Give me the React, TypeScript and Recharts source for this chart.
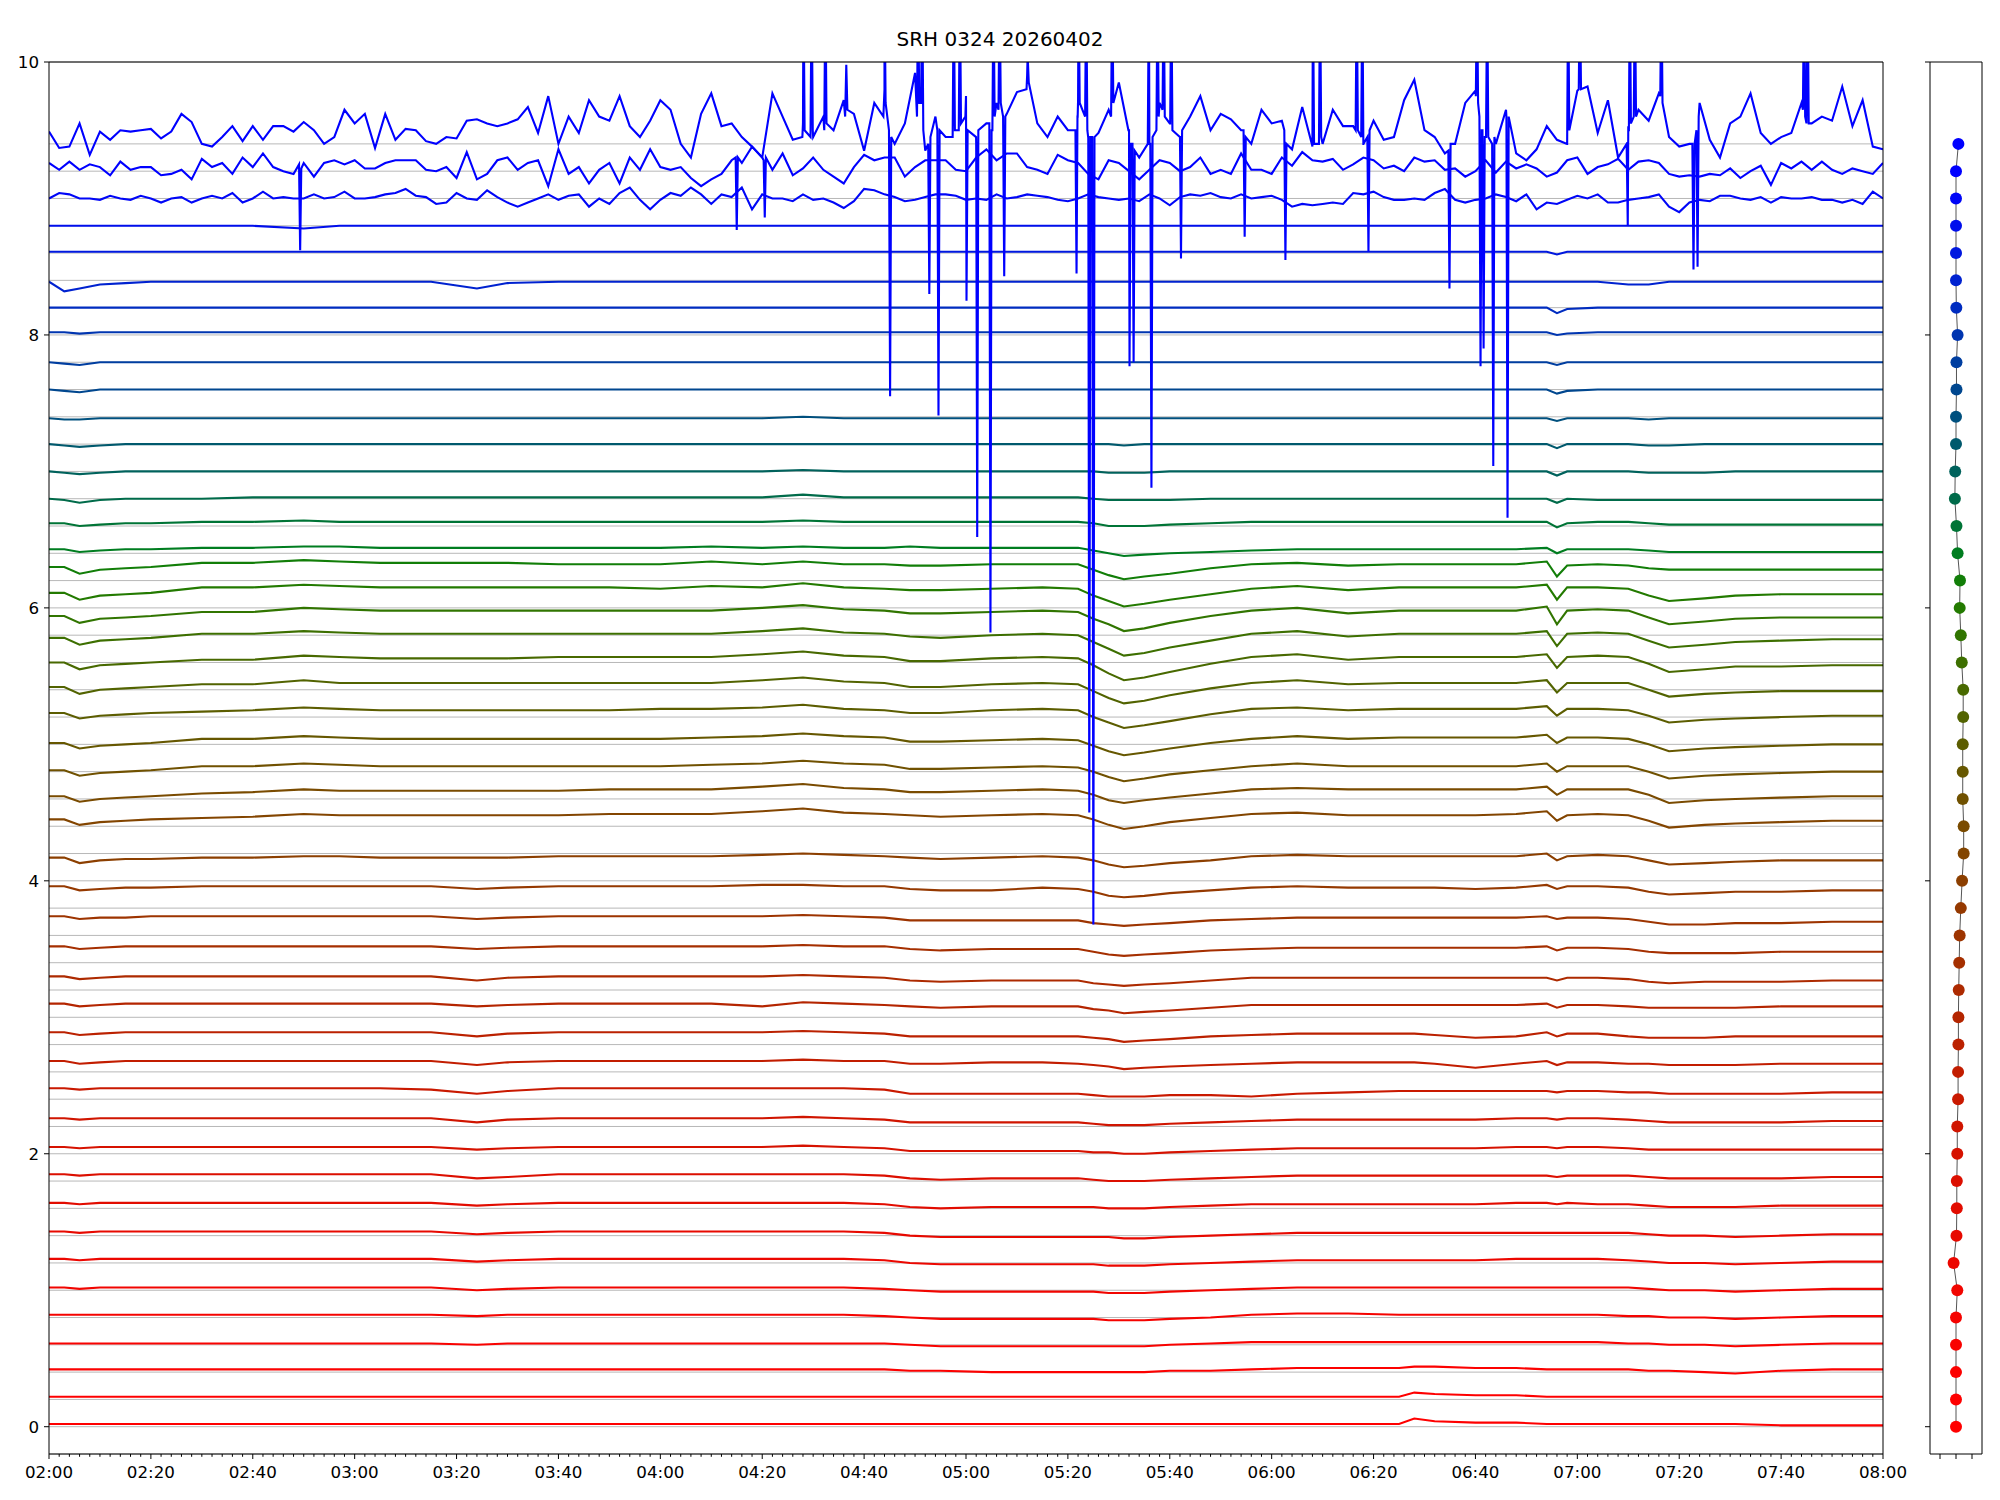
import React from 'react';
import { LineChart, Line, XAxis, YAxis, CartesianGrid, ReferenceLine, ScatterChart, Scatter } from 'recharts';

const TITLE = 'SRH 0324 20260402';
const FONT = 'DejaVu Sans, sans-serif';

// channel baselines (y offsets of the 48 traces, bottom to top)
const BASELINES = [0, 0.2, 0.4, 0.6, 0.8, 1, 1.2, 1.4, 1.6, 1.8, 2, 2.2, 2.4, 2.6, 2.8, 3, 3.2, 3.4, 3.6, 3.8, 4, 4.2, 4.4, 4.6, 4.8, 5, 5.2, 5.4, 5.6, 5.8, 6, 6.2, 6.4, 6.6, 6.8, 7, 7.2, 7.4, 7.6, 7.8, 8, 8.2, 8.4, 8.6, 8.8, 9, 9.2, 9.4];
const Y_MAJOR_TICKS = [0, 2, 4, 6, 8, 10];
const Y_TOP = 10;
const X_END = 360; // minutes after 02:00 (08:00)

// sample times (minutes after 02:00) for the quiet channels 0..44
const T_GRID = [0, 3, 6, 10, 15, 20, 30, 40, 50, 57, 65, 75, 84, 90, 100, 110, 120, 130, 140, 148, 156, 164, 169, 175, 185, 195, 202, 205, 208, 211, 215, 220, 228, 236, 245, 255, 265, 268, 272, 280, 288, 294, 296, 298, 304, 310, 314, 318, 325, 331, 340, 350, 360];

// 2-minute sample times for the three noisy top channels (also the x tick positions)
const T_FINE = [0, 2, 4, 6, 8, 10, 12, 14, 16, 18, 20, 22, 24, 26, 28, 30, 32, 34, 36, 38, 40, 42, 44, 46, 48, 50, 52, 54, 56, 58, 60, 62, 64, 66, 68, 70, 72, 74, 76, 78, 80, 82, 84, 86, 88, 90, 92, 94, 96, 98, 100, 102, 104, 106, 108, 110, 112, 114, 116, 118, 120, 122, 124, 126, 128, 130, 132, 134, 136, 138, 140, 142, 144, 146, 148, 150, 152, 154, 156, 158, 160, 162, 164, 166, 168, 170, 172, 174, 176, 178, 180, 182, 184, 186, 188, 190, 192, 194, 196, 198, 200, 202, 204, 206, 208, 210, 212, 214, 216, 218, 220, 222, 224, 226, 228, 230, 232, 234, 236, 238, 240, 242, 244, 246, 248, 250, 252, 254, 256, 258, 260, 262, 264, 266, 268, 270, 272, 274, 276, 278, 280, 282, 284, 286, 288, 290, 292, 294, 296, 298, 300, 302, 304, 306, 308, 310, 312, 314, 316, 318, 320, 322, 324, 326, 328, 330, 332, 334, 336, 338, 340, 342, 344, 346, 348, 350, 352, 354, 356, 358, 360];

// deviations from baseline in hundredths, at T_GRID, channels 0..44
const D00 = [2,2,2,2,2,2,2,2,2,2, 2,2,2,2,2,2,2,2,2,2, 2,2,2,2,2,2,2,2,2,2, 2,2,2,2,2,2,2,6,4,3, 3,2,2,2,2,2,2,2,2,2, 1,1,1];
const D01 = [2,2,2,2,2,2,2,2,2,2, 2,2,2,2,2,2,2,2,2,2, 2,2,2,2,2,2,2,2,2,2, 2,2,2,2,2,2,2,5,4,3, 3,2,2,2,2,2,2,2,2,2, 2,2,2];
const D02 = [2,2,2,2,2,2,2,2,2,2, 2,2,2,2,2,2,2,2,2,2, 2,2,1,1,0,0,0,0,0,0, 0,1,1,2,3,3,3,4,4,3, 3,2,2,2,2,2,1,1,0,-1, 1,2,2];
const D03 = [1,1,1,1,1,1,1,1,1,1, 1,1,0,1,1,1,1,1,1,1, 1,1,0,-1,-1,-1,-1,-1,-1,-1, -1,0,1,2,2,2,2,2,2,2, 2,2,2,2,2,1,1,0,0,-1, 0,1,1];
const D04 = [2,2,2,2,2,2,2,2,2,2, 2,2,1,2,2,2,2,2,2,2, 2,1,0,-1,-1,-1,-1,-1,-2,-2, -2,-1,0,2,3,3,2,2,2,2, 2,2,2,2,2,1,1,0,0,-1, 0,1,1];
const D05 = [2,2,1,2,2,2,2,2,2,2, 2,2,0,1,2,2,2,2,2,2, 2,1,0,-1,-1,-1,-1,-1,-2,-2, -2,-1,0,1,2,2,2,2,2,2, 2,2,2,2,2,2,1,0,0,-1, 0,1,1];
const D06 = [3,3,2,3,3,3,3,3,3,3, 3,3,1,2,3,3,3,3,3,3, 3,2,0,-1,-1,-1,-1,-1,-2,-2, -2,-1,0,1,2,2,2,2,2,2, 3,3,3,3,3,2,1,0,0,-1, 0,1,1];
const D07 = [3,3,2,3,3,3,3,3,3,3, 3,3,1,2,3,3,3,3,3,3, 3,2,0,-1,-1,-1,-1,-1,-1,-2, -2,-1,0,1,2,2,2,2,2,2, 2,2,2,2,2,2,1,0,0,-1, 0,1,1];
const D08 = [4,4,3,4,4,4,4,4,4,4, 4,4,2,3,4,4,4,4,4,4, 4,3,1,0,1,1,1,1,0,0, 0,1,2,3,3,3,3,3,3,3, 4,4,3,4,3,3,2,1,1,1, 2,2,2];
const D09 = [5,5,4,5,5,5,5,5,5,5, 5,5,2,3,5,5,5,5,5,5, 5,4,2,1,2,2,2,1,0,0, 0,1,2,3,4,4,4,4,4,4, 4,4,3,4,4,4,3,2,2,2, 2,3,3];
const D10 = [5,5,4,5,5,5,5,5,5,5, 5,5,3,4,5,5,5,5,5,6, 5,4,2,2,2,2,2,1,1,0, 0,1,2,3,4,4,4,4,4,4, 5,5,4,5,5,4,3,3,3,3, 3,3,3];
const D11 = [6,6,5,6,6,6,6,6,6,6, 6,6,3,5,6,6,6,6,6,7, 6,5,3,3,3,3,3,2,1,1, 1,2,3,4,5,5,5,5,5,5, 6,6,5,6,6,5,4,3,3,3, 3,4,4];
const D12 = [8,8,7,8,8,8,8,8,8,8, 8,7,4,6,8,8,8,8,8,8, 8,7,4,4,4,4,4,3,2,2, 2,3,3,2,4,5,6,6,6,6, 6,6,5,6,6,5,5,4,4,4, 4,5,5];
const D13 = [8,8,6,7,8,8,8,8,8,8, 8,8,5,7,8,8,8,8,8,9, 8,8,6,6,7,7,6,5,4,2, 3,4,5,6,7,7,7,7,6,3, 6,8,5,7,7,6,6,5,5,5, 6,6,6];
const D14 = [9,9,7,8,9,9,9,9,9,9, 9,9,6,8,9,9,9,9,9,10, 9,8,6,6,6,6,6,5,4,2, 3,4,6,7,8,8,8,8,7,5, 6,9,6,8,8,6,5,5,5,6, 6,6,6];
const D15 = [10,10,8,9,10,10,10,10,10,10, 10,10,8,9,10,10,10,10,8,11, 10,9,8,7,8,8,8,6,5,3, 4,5,7,9,9,9,9,9,9,9, 9,10,7,9,9,8,7,7,7,7, 8,8,8];
const D16 = [10,10,8,9,10,10,10,10,10,10, 10,10,7,9,10,10,10,10,10,11, 10,9,7,6,7,7,7,5,4,3, 4,5,7,9,9,9,9,9,9,9, 9,9,7,9,9,8,6,5,6,6, 6,7,7];
const D17 = [12,12,10,11,12,12,12,12,12,12, 12,12,10,11,12,12,12,12,12,13, 12,12,10,9,10,10,10,8,6,5, 6,7,9,10,11,11,11,11,11,11, 11,12,9,11,11,10,8,7,7,7, 8,8,8];
const D18 = [14,14,12,13,13,14,14,14,14,14, 14,14,12,13,14,14,14,14,14,15, 14,13,11,11,11,11,11,9,8,7, 8,9,11,12,13,13,13,13,13,13, 13,14,12,13,13,12,10,8,8,9, 9,10,10];
const D19 = [16,16,13,14,15,15,16,16,16,16, 16,16,14,15,16,16,16,16,17,17, 16,16,14,13,13,15,14,12,9,8, 9,11,13,15,16,15,15,15,15,14, 15,17,14,16,16,15,12,10,11,12, 12,13,13];
const D20 = [17,17,13,15,16,16,17,17,18,18, 17,17,17,17,18,18,18,18,19,20, 19,18,17,16,17,18,17,15,12,10, 11,13,15,18,19,18,18,18,18,18, 18,20,15,18,19,18,15,12,13,14, 15,15,15];
const D21 = [25,25,21,23,24,25,26,27,29,28, 28,28,28,28,28,29,29,29,31,33, 30,29,28,27,28,29,28,25,21,18, 20,23,26,29,30,28,28,28,28,28, 29,31,24,28,29,28,24,19,21,22, 23,24,24];
const D22 = [22,22,18,20,21,22,24,25,27,26, 26,26,26,26,26,27,27,27,29,31, 28,27,25,25,26,27,26,23,19,17, 19,21,24,27,28,27,27,27,27,27, 27,29,23,27,27,27,23,17,19,20, 21,22,22];
const D23 = [21,21,17,19,20,21,24,24,26,25, 24,24,24,24,24,24,24,25,26,28, 26,25,22,22,23,24,23,20,16,13, 15,18,21,24,26,24,24,24,24,24, 24,26,20,24,24,24,20,15,17,18, 19,20,20];
const D24 = [21,21,17,19,20,21,24,24,26,25, 24,24,24,24,24,24,24,25,26,28, 26,25,22,22,23,24,23,19,15,12, 14,17,21,24,26,24,25,25,25,25, 25,27,21,25,25,24,20,15,17,18, 19,20,20];
const D25 = [23,23,19,21,22,23,24,25,27,26, 25,25,25,25,25,25,26,26,27,29, 26,25,23,23,25,26,25,20,16,12, 14,17,22,26,27,25,26,26,26,26, 26,28,21,26,26,25,21,16,18,19, 20,21,21];
const D26 = [22,22,17,20,21,22,24,24,27,25, 25,25,25,25,25,25,25,25,27,29, 26,25,22,22,24,25,24,19,14,10, 12,16,21,25,27,24,25,25,25,25, 25,27,18,25,25,25,20,15,17,18, 19,19,19];
const D27 = [20,20,15,18,19,20,22,22,25,24, 23,23,23,23,24,24,24,24,26,28, 25,24,21,21,23,24,23,18,12,7, 9,13,19,24,26,22,24,24,24,24, 24,26,16,24,25,24,19,13,15,17, 17,18,18];
const D28 = [18,18,13,16,17,18,21,21,23,22, 21,21,21,21,21,21,21,21,23,25, 22,21,19,18,20,21,20,15,10,5, 7,11,16,21,23,19,21,21,21,21, 21,23,12,21,22,21,16,11,13,15, 16,17,17];
const D29 = [14,14,9,12,13,14,17,17,20,19, 18,18,18,18,18,18,18,18,20,22, 19,18,16,16,17,18,17,12,8,3, 5,9,14,18,20,16,18,18,18,18, 18,21,8,18,19,18,13,8,10,12, 13,13,13];
const D30 = [11,11,6,9,10,11,15,15,17,16, 15,15,15,15,15,15,14,16,15,18, 15,14,13,13,14,15,14,9,5,1, 3,6,10,14,16,13,15,15,15,15, 15,17,6,15,15,14,9,5,7,9, 10,10,10];
const D31 = [10,10,5,8,9,10,13,13,15,14, 13,13,13,13,12,12,12,14,12,14, 12,12,11,11,12,12,12,8,4,1, 3,5,9,12,13,11,12,12,12,12, 12,14,3,11,12,11,9,8,8,8, 8,8,8];
const D32 = [3,3,1,2,3,3,4,4,5,5, 4,4,4,4,4,4,4,5,4,5, 4,4,5,4,4,4,4,2,0,-2, -1,0,1,2,3,3,3,3,3,3, 3,4,0,3,3,3,2,1,1,1, 1,1,1];
const D33 = [2,2,0,1,2,2,3,3,4,3, 3,3,3,3,3,3,3,3,3,4, 3,3,3,3,3,3,3,2,0,0, 0,1,2,3,3,3,3,3,3,3, 3,3,-1,2,3,3,2,1,1,1, 1,1,1];
const D34 = [0,-1,-3,-1,0,0,0,1,1,1, 1,1,1,1,1,1,1,1,1,3, 1,1,1,1,1,1,1,0,-1,-1, -1,-1,0,0,0,0,0,0,0,0, 0,0,-3,0,-1,-1,-1,-1,-1,-1, -1,-1,-1];
const D35 = [0,-1,-2,-1,0,0,0,0,0,0, 0,0,0,0,0,0,0,0,0,1, 0,0,0,0,0,0,0,0,-1,-1, -1,0,0,0,0,0,0,0,0,0, 0,0,-3,0,0,0,-1,-1,-1,0, 0,0,0];
const D36 = [0,-1,-2,-1,0,0,0,0,0,0, 0,0,0,0,0,0,0,0,0,0, 0,0,0,0,0,0,0,0,0,-1, 0,0,0,0,0,0,0,0,0,0, 0,0,-3,0,0,0,-1,-1,0,0, 0,0,0];
const D37 = [-1,-2,-2,-1,-1,-1,-1,-1,-1,-1, -1,-1,-1,-1,-1,-1,-1,-1,-1,0, -1,-1,-1,-1,-1,-1,-1,-1,-1,-1, -1,-1,-1,-1,-1,-1,-1,-1,-1,-1, -1,-1,-3,-1,-1,-1,-2,-1,-1,-1, -1,-1,-1];
const D38 = [0,-1,-2,0,0,0,0,0,0,0, 0,0,0,0,0,0,0,0,0,0, 0,0,0,0,0,0,0,0,0,0, 0,0,0,0,0,0,0,0,0,0, 0,0,-3,-1,0,0,0,0,0,0, 0,0,0];
const D39 = [0,-1,-2,0,0,0,0,0,0,0, 0,0,0,0,0,0,0,0,0,0, 0,0,0,0,0,0,0,0,0,0, 0,0,0,0,0,0,0,0,0,0, 0,0,-2,0,0,0,0,0,0,0, 0,0,0];
const D40 = [2,2,1,2,2,2,2,2,2,2, 2,2,2,2,2,2,2,2,2,2, 2,2,2,2,2,2,2,2,2,2, 2,2,2,2,2,2,2,2,2,2, 2,2,0,1,2,2,2,2,2,2, 2,2,2];
const D41 = [0,0,0,0,0,0,0,0,0,0, 0,0,0,0,0,0,0,0,0,0, 0,0,0,0,0,0,0,0,0,0, 0,0,0,0,0,0,0,0,0,0, 0,0,-4,-1,0,0,0,0,0,0, 0,0,0];
const D42 = [-1,-8,-6,-3,-2,-1,-1,-1,-1,-1, -1,-1,-6,-2,-1,-1,-1,-1,-1,-1, -1,-1,-1,-1,-1,-1,-1,-1,-1,-1, -1,-1,-1,-1,-1,-1,-1,-1,-1,-1, -1,-1,-1,-1,-1,-3,-3,-1,-1,-1, -1,-1,-1];
const D43 = [1,1,1,1,1,1,1,1,1,1, 1,1,1,1,1,1,1,1,1,1, 1,1,1,1,1,1,1,1,1,1, 1,1,1,1,1,1,1,1,1,1, 1,1,-1,1,1,1,1,1,1,1, 1,1,1];
const D44 = [0,0,0,0,0,0,0,0,-2,0, 0,0,0,0,0,0,0,0,0,0, 0,0,0,0,0,0,0,0,0,0, 0,0,0,0,0,0,0,0,0,0, 0,0,0,0,0,0,0,0,0,0, 0,0,0];

const QUIET_DEVS = [D00, D01, D02, D03, D04, D05, D06, D07, D08, D09, D10, D11, D12, D13, D14, D15, D16, D17, D18, D19, D20, D21, D22, D23, D24, D25, D26, D27, D28, D29, D30, D31, D32, D33, D34, D35, D36, D37, D38, D39, D40, D41, D42, D43, D44];

// absolute values at T_FINE for the three top channels
const TOP_45 = [9.00,9.04,9.03,9.00,9.00,8.99,9.02,9.00,8.99,9.02,9.00,8.97,9.00,9.01,8.97,9.00,9.02,9.00,9.04,8.97,9.00,9.05,9.00,9.01,9.00,9.00,9.03,9.00,9.01,9.05,9.00,9.00,9.01,9.03,9.04,9.07,9.02,9.01,8.96,8.97,9.04,9.00,8.99,9.06,9.01,8.97,8.94,8.97,9.00,9.03,8.99,9.02,9.03,8.94,9.00,8.96,9.04,9.08,8.99,8.92,8.99,
  9.04,9.02,9.08,9.03,8.96,9.03,9.01,9.08,8.92,9.03,9.00,9.00,8.98,9.03,8.99,9.00,8.97,8.93,8.98,9.07,9.06,9.03,9.01,8.98,8.99,9.01,9.03,9.03,9.02,8.99,9.00,8.99,9.03,9.00,9.01,9.03,9.02,9.01,8.99,8.98,9.00,9.03,9.01,9.00,8.99,9.00,8.98,9.03,9.00,8.95,9.01,9.03,9.02,9.04,9.01,9.00,9.03,9.00,9.01,9.02,
  8.99,8.94,8.96,8.95,8.96,8.97,8.96,9.04,9.03,9.05,9.01,8.99,8.99,9.00,8.99,9.04,9.07,8.99,8.97,8.99,9.00,9.03,9.01,8.98,9.03,8.92,8.97,8.96,8.99,9.02,9.00,9.03,8.97,8.97,8.99,9.00,9.01,9.03,8.94,8.90,8.97,8.99,8.98,9.02,9.02,9.00,8.99,9.01,8.97,9.01,9.00,9.00,9.01,8.99,8.99,8.97,8.99,8.96,9.05,9.00];
const TOP_46 = [9.26,9.21,9.27,9.21,9.25,9.23,9.17,9.27,9.21,9.23,9.23,9.17,9.18,9.21,9.14,9.29,9.23,9.26,9.18,9.30,9.23,9.33,9.23,9.20,9.18,9.26,9.16,9.26,9.28,9.25,9.28,9.22,9.22,9.26,9.28,9.28,9.28,9.21,9.20,9.23,9.15,9.34,9.14,9.18,9.28,9.30,9.21,9.26,9.28,9.09,9.36,9.18,9.23,9.11,9.21,9.26,9.11,9.30,9.21,9.36,9.23,
  9.21,9.23,9.15,9.09,9.14,9.18,9.28,9.26,9.38,9.30,9.21,9.33,9.17,9.22,9.30,9.21,9.16,9.11,9.23,9.32,9.28,9.30,9.30,9.16,9.23,9.28,9.28,9.28,9.21,9.20,9.30,9.36,9.28,9.33,9.33,9.23,9.21,9.18,9.32,9.28,9.26,9.18,9.14,9.28,9.26,9.20,9.14,9.21,9.28,9.26,9.20,9.23,9.30,9.18,9.21,9.18,9.33,9.21,9.21,9.18,
  9.30,9.24,9.34,9.28,9.27,9.29,9.21,9.25,9.30,9.28,9.22,9.24,9.20,9.30,9.27,9.28,9.21,9.22,9.16,9.20,9.28,9.19,9.27,9.22,9.25,9.22,9.16,9.19,9.28,9.30,9.18,9.23,9.25,9.29,9.21,9.27,9.28,9.26,9.18,9.16,9.17,9.16,9.18,9.17,9.22,9.15,9.20,9.24,9.10,9.26,9.22,9.27,9.21,9.27,9.21,9.18,9.22,9.20,9.18,9.26];
const TOP_47 = [9.49,9.37,9.38,9.55,9.32,9.49,9.43,9.50,9.49,9.50,9.51,9.44,9.49,9.62,9.56,9.40,9.38,9.45,9.53,9.42,9.53,9.43,9.53,9.53,9.49,9.56,9.50,9.40,9.45,9.65,9.55,9.62,9.37,9.62,9.43,9.51,9.50,9.42,9.40,9.45,9.44,9.57,9.58,9.55,9.53,9.55,9.58,9.67,9.48,9.75,9.40,9.60,9.48,9.72,9.60,9.57,9.75,9.53,9.45,9.57,9.72,
  9.65,9.40,9.30,9.62,9.77,9.53,9.55,9.45,9.38,9.30,9.77,9.60,9.43,9.55,9.45,9.60,9.50,9.72,9.62,9.35,9.70,9.80,9.40,9.55,9.92,9.35,9.60,9.45,9.50,9.75,9.40,9.55,9.70,9.62,9.78,9.90,9.55,9.45,9.60,9.50,9.72,9.45,9.48,9.65,9.85,9.50,9.30,9.40,9.70,9.55,9.45,9.60,9.75,9.50,9.62,9.58,9.50,9.40,9.65,9.55,
  9.57,9.36,9.67,9.38,9.40,9.65,9.53,9.53,9.40,9.57,9.43,9.45,9.72,9.87,9.50,9.45,9.33,9.40,9.70,9.79,9.45,9.40,9.65,9.33,9.28,9.36,9.53,9.43,9.40,9.79,9.82,9.48,9.72,9.30,9.53,9.65,9.57,9.77,9.45,9.38,9.40,9.70,9.43,9.30,9.55,9.60,9.77,9.48,9.40,9.45,9.48,9.70,9.55,9.60,9.57,9.82,9.53,9.72,9.38,9.36];

// short glitches: [minute, value before, extreme value, value after]
const SPIKES_46 = [[49.3, 9.25, 8.62, 9.22], [135.0, 9.3, 8.77, 9.3], [140.5, 9.28, 8.86, 9.3]];
const SPIKES_47 = [
  [148.1, 9.45, 10.6, 9.5], [149.7, 9.45, 10.6, 9.5], [152.4, 9.5, 10.6, 9.55], [156.5, 9.6, 9.98, 9.65],
  [164.0, 9.6, 10.6, 9.7], [165.1, 9.5, 7.55, 9.45], [170.6, 9.6, 10.6, 9.7], [171.4, 9.7, 10.6, 9.5],
  [172.8, 9.4, 8.3, 9.45], [174.6, 9.5, 7.41, 9.5], [177.6, 9.45, 10.6, 9.5], [178.8, 9.5, 10.6, 9.55],
  [180.1, 9.6, 8.25, 9.5], [182.2, 9.45, 6.52, 9.5], [184.8, 9.55, 5.82, 9.5], [185.4, 9.5, 10.6, 9.6],
  [186.6, 9.65, 10.6, 9.7], [187.5, 9.6, 8.43, 9.6], [192.1, 9.8, 10.05, 9.85], [201.7, 9.5, 8.45, 9.6],
  [202.1, 9.6, 10.6, 9.7], [203.6, 9.6, 10.6, 9.5], [204.2, 9.45, 4.5, 9.45], [205.0, 9.45, 3.68, 9.45],
  [208.7, 9.6, 10.6, 9.7], [212.1, 9.5, 7.77, 9.4], [212.9, 9.4, 7.8, 9.35], [215.9, 9.4, 10.6, 9.4],
  [216.4, 9.4, 6.88, 9.45], [217.6, 9.5, 10.6, 9.6], [218.8, 9.65, 10.6, 9.6], [220.3, 9.55, 10.6, 9.5],
  [222.2, 9.45, 8.56, 9.5], [234.7, 9.5, 8.72, 9.45], [242.7, 9.5, 8.55, 9.4],
  [248.1, 9.4, 10.6, 9.4], [249.5, 9.4, 10.6, 9.45], [256.7, 9.5, 10.6, 9.5], [257.8, 9.45, 10.6, 9.4],
  [259.0, 9.45, 8.61, 9.5], [274.9, 9.35, 8.34, 9.4], [280.3, 9.75, 10.6, 9.7], [281.0, 9.6, 7.77, 9.5],
  [281.6, 9.5, 7.9, 9.45], [282.3, 9.45, 10.6, 9.45], [283.5, 9.4, 7.04, 9.45], [286.3, 9.6, 6.66, 9.6],
  [298.2, 9.4, 10.6, 9.5], [300.5, 9.8, 10.6, 9.8], [309.9, 9.4, 8.8, 9.5], [310.3, 9.5, 10.6, 9.55],
  [311.3, 9.6, 10.6, 9.6], [316.5, 9.75, 10.6, 9.7], [322.8, 9.4, 8.48, 9.4], [323.6, 9.5, 8.5, 9.6],
  [344.5, 9.65, 10.6, 9.6], [345.2, 9.55, 10.6, 9.55],
];

// right panel: horizontal position of each channel marker
const DOT_X = [0, 0, 0, 0, 0, 0.08, -0.15, 0.03, 0.05, 0.05, 0.08, 0.08, 0.13, 0.13, 0.15, 0.15, 0.17, 0.2, 0.23, 0.3, 0.38, 0.48, 0.48, 0.42, 0.42, 0.42, 0.45, 0.45, 0.36, 0.3, 0.23, 0.25, 0.1, 0.03, -0.07, -0.05, 0, 0, 0.03, 0.03, 0.1, 0.02, 0, 0, 0, 0, 0, 0.15];
const DOT_X_TICKS = [-1, 0, 1];
const DOT_X_DOMAIN = [-1.625, 1.625];

// styles
const TRACE_COLORS = ['#ff0000', '#fe0000', '#fc0100', '#f90200', '#f50300', '#f10500', '#ec0700', '#e70900', '#e20c00', '#dc0f00', '#d61200', '#d01500', '#c91900', '#c21d00', '#bb2100', '#b42500', '#ad2a00', '#a52f00', '#9d3400', '#953900', '#8c3f00', '#834500', '#7a4b00', '#705100', '#665700', '#5c5d00', '#526300', '#486900', '#3d6f00', '#317500', '#237a00', '#127e08', '#007d20', '#007436', '#006b4a', '#00625c', '#00596d', '#00507e', '#00478f', '#003ea0', '#0035b0', '#002cc0', '#0022d0', '#0018df', '#000eec', '#0006f7', '#0000ff', '#0000ff'];
const SPIKE_HALF = 0.22;
const LINE_W = 2.1;

const fmtTime = (m: number) => {
  const h = 2 + Math.floor(m / 60);
  const mm = m % 60;
  return `${String(h).padStart(2, '0')}:${String(mm).padStart(2, '0')}`;
};

function buildTrace(k: number) {
  if (k < QUIET_DEVS.length) {
    const dev = QUIET_DEVS[k];
    return T_GRID.map((t, i) => ({ t, v: BASELINES[k] + (dev[i] ?? 0) / 100 }));
  }
  const top = k === 45 ? TOP_45 : k === 46 ? TOP_46 : TOP_47;
  const spikes = k === 46 ? SPIKES_46 : k === 47 ? SPIKES_47 : [];
  const pts: { t: number; v: number }[] = T_FINE.map((t, i) => ({ t, v: top[i] }));
  spikes.forEach(([t, pre, peak, post]) => {
    pts.push({ t: t - SPIKE_HALF, v: pre });
    pts.push({ t, v: peak });
    pts.push({ t: t + SPIKE_HALF, v: post });
  });
  pts.sort((a, b) => a.t - b.t);
  return pts;
}

const TRACES = BASELINES.map((_, k) => buildTrace(k));
const Y_ALL_TICKS = [...BASELINES, Y_TOP];
const DOTS = DOT_X.map((x, k) => ({ x, y: BASELINES[k], color: TRACE_COLORS[k] }));

function MainXTick(props: any) {
  const { x, y, payload } = props;
  const v = payload.value;
  const major = v % 20 === 0;
  return (
    <g>
      <line x1={x} x2={x} y1={y} y2={y + (major ? 5 : 2.8)} stroke="#000" strokeWidth={1} />
      {major && (
        <text x={x} y={y + 24} textAnchor="middle" fontSize={16.7} fontFamily={FONT} fill="#000">
          {fmtTime(v)}
        </text>
      )}
    </g>
  );
}

function MainYTick(props: any) {
  const { x, y, payload } = props;
  const v = payload.value;
  if (v % 2 !== 0) return <g />;
  return (
    <g>
      <line x1={x - 5} x2={x} y1={y} y2={y} stroke="#000" strokeWidth={1} />
      <text x={x - 10} y={y} dy={6} textAnchor="end" fontSize={16.7} fontFamily={FONT} fill="#000">
        {v}
      </text>
    </g>
  );
}

function SideXTick(props: any) {
  const { x, y } = props;
  return <line x1={x} x2={x} y1={y} y2={y + 5} stroke="#000" strokeWidth={1} />;
}

function SideYTick(props: any) {
  const { x, y } = props;
  return <line x1={x - 5} x2={x} y1={y} y2={y} stroke="#000" strokeWidth={1} />;
}

function DotShape(props: any) {
  const { cx, cy, payload } = props;
  if (cx == null || cy == null) return <g />;
  return <circle cx={cx} cy={cy} r={6} fill={payload?.color ?? '#000'} />;
}

export default function App() {
  return (
    <div style={{ position: 'absolute', left: 0, top: 0, width: 2000, height: 1500, background: '#fff', overflow: 'hidden' }}>
      <svg style={{ position: 'absolute', left: 0, top: 0 }} width={2000} height={60}>
        <text x={1000} y={46} textAnchor="middle" fontSize={20} fontFamily={FONT} fill="#000">
          {TITLE}
        </text>
      </svg>
      <div style={{ position: 'absolute', left: 0, top: 0 }}>
        <LineChart width={1930} height={1500} margin={{ top: 62, right: 47, bottom: 0, left: 0 }}>
          <CartesianGrid vertical={false} stroke="#b8b8b8" strokeWidth={1} />
          <XAxis
            type="number"
            dataKey="t"
            domain={[0, X_END]}
            ticks={T_FINE}
            interval={0}
            tick={<MainXTick />}
            tickLine={false}
            tickSize={0}
            tickMargin={0}
            height={46}
            stroke="#000"
            allowDataOverflow
          />
          <YAxis
            type="number"
            domain={[-0.2, Y_TOP]}
            ticks={Y_ALL_TICKS}
            interval={0}
            tick={<MainYTick />}
            tickLine={false}
            tickSize={0}
            tickMargin={0}
            width={49}
            stroke="#000"
            allowDataOverflow
          />
          {TRACES.map((data, k) => (
            <Line
              key={`trace-${k}`}
              data={data}
              dataKey="v"
              type="linear"
              stroke={TRACE_COLORS[k]}
              strokeWidth={LINE_W}
              dot={false}
              activeDot={false}
              isAnimationActive={false}
            />
          ))}
          <ReferenceLine y={Y_TOP} stroke="#000" strokeWidth={1} />
          <ReferenceLine x={X_END} stroke="#000" strokeWidth={1} />
        </LineChart>
      </div>
      <div style={{ position: 'absolute', left: 1900, top: 0 }}>
        <ScatterChart width={100} height={1500} margin={{ top: 62, right: 18, bottom: 0, left: 20 }}>
          <XAxis
            type="number"
            dataKey="x"
            domain={DOT_X_DOMAIN}
            ticks={DOT_X_TICKS}
            interval={0}
            tick={<SideXTick />}
            tickLine={false}
            tickSize={0}
            tickMargin={0}
            height={46}
            stroke="#000"
            allowDataOverflow
          />
          <YAxis
            type="number"
            dataKey="y"
            domain={[-0.2, Y_TOP]}
            ticks={Y_MAJOR_TICKS}
            interval={0}
            tick={<SideYTick />}
            tickLine={false}
            tickSize={0}
            tickMargin={0}
            width={10}
            stroke="#000"
            allowDataOverflow
          />
          <Scatter
            data={DOTS}
            line={{ stroke: '#555555', strokeWidth: 1 }}
            lineType="joint"
            shape={<DotShape />}
            isAnimationActive={false}
          />
          <ReferenceLine y={Y_TOP} stroke="#000" strokeWidth={1} />
          <ReferenceLine x={DOT_X_DOMAIN[1]} stroke="#000" strokeWidth={1} />
        </ScatterChart>
      </div>
    </div>
  );
}
